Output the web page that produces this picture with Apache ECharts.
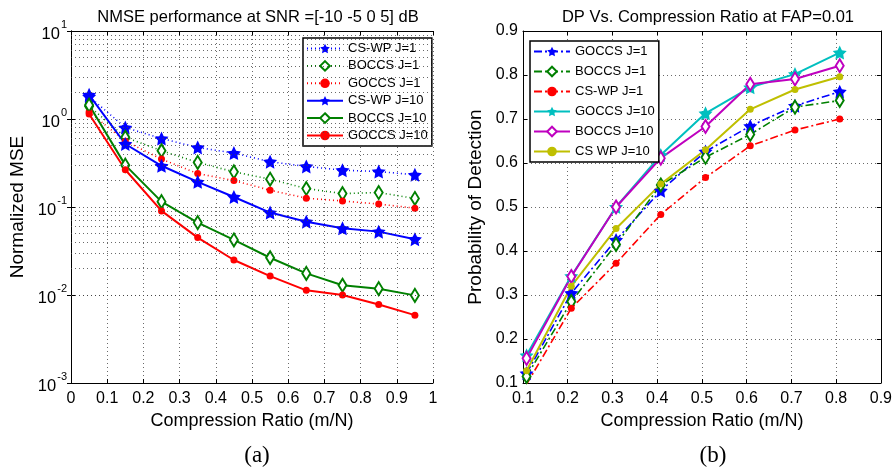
<!DOCTYPE html>
<html>
<head>
<meta charset="utf-8">
<script src="https://cdn.jsdelivr.net/npm/echarts@6/dist/echarts.min.js"></script>
<style>
  html, body { margin: 0; padding: 0; background: #fff; }
  #main { width: 895px; height: 469px; }
</style>
</head>
<body>
<div id="main"></div>
<script>
// (a) NMSE vs compression ratio
var mseX = [0.05, 0.15, 0.25, 0.35, 0.45, 0.55, 0.65, 0.75, 0.85, 0.95];
var cswpJ1 = [1.8, 0.80, 0.60, 0.475, 0.41, 0.327, 0.289, 0.262, 0.253, 0.232];
var boccsJ1 = [1.4, 0.62, 0.436, 0.321, 0.251, 0.207, 0.162, 0.142, 0.146, 0.125];
var goccsJ1 = [1.2, 0.56, 0.35, 0.24, 0.20, 0.155, 0.126, 0.117, 0.108, 0.097];
var cswpJ10 = [1.88, 0.52, 0.294, 0.193, 0.130, 0.0864, 0.068, 0.0573, 0.0525, 0.043];
var boccsJ10 = [1.44, 0.299, 0.115, 0.0665, 0.0422, 0.0265, 0.0176, 0.0129, 0.0118, 0.0099];
var goccsJ10 = [1.14, 0.265, 0.0903, 0.0449, 0.025, 0.0164, 0.0113, 0.0100, 0.0078, 0.0059];

// (b) detection probability vs compression ratio
var dpX = [0.108, 0.208, 0.308, 0.408, 0.508, 0.608, 0.708, 0.808];
var dpGoccsJ1 = [0.122, 0.304, 0.425, 0.537, 0.626, 0.684, 0.730, 0.762];
var dpBoccsJ1 = [0.115, 0.285, 0.415, 0.550, 0.613, 0.665, 0.727, 0.742];
var dpCswpJ1 = [0.097, 0.270, 0.372, 0.483, 0.567, 0.639, 0.675, 0.700];
var dpGoccsJ10 = [0.163, 0.343, 0.500, 0.618, 0.713, 0.772, 0.802, 0.851];
var dpBoccsJ10 = [0.156, 0.342, 0.500, 0.611, 0.683, 0.779, 0.791, 0.821];
var dpCswpJ10 = [0.128, 0.320, 0.451, 0.552, 0.630, 0.722, 0.767, 0.796];

var FONT = "Liberation Sans";
var STAR = "path://M0,-10 L2.94,-4.05 9.51,-3.09 4.76,1.55 5.88,8.09 0,5 -5.88,8.09 -4.76,1.55 -9.51,-3.09 -2.94,-4.05 Z";
var dashDot = [8, 3, 2, 3];
var dotted = [1, 3];

function zip(xs, ys) {
  return xs.map(function (x, i) { return [x, ys[i]]; });
}

var gridLine = { show: true, lineStyle: { color: "#444", width: 0.8, type: dotted } };

// minor grid lines of the log axis, 2..9 in every decade
var minorLines = [];
for (var k = -3; k <= 0; k++) {
  for (var m = 2; m <= 9; m++) {
    minorLines.push({ yAxis: m * Math.pow(10, k) });
  }
}

function mkSeries(name, xi, yi, data, color, lineType, symbol, size, hollow) {
  return {
    name: name,
    type: "line",
    xAxisIndex: xi,
    yAxisIndex: yi,
    data: data,
    symbol: symbol,
    symbolSize: size,
    showAllSymbol: true,
    lineStyle: { color: color, width: lineType === "solid" ? 2 : 1.6, type: lineType },
    itemStyle: hollow
      ? { color: color, borderColor: color, borderWidth: 1.6 }
      : { color: color },
    emphasis: { disabled: true },
  };
}

var series = [
  mkSeries("a:CS-WP J=1", 0, 0, zip(mseX, cswpJ1), "#0000ff", dotted, STAR, 14),
  mkSeries("a:BOCCS J=1", 0, 0, zip(mseX, boccsJ1), "#008000", dotted, "emptyDiamond", [8, 13], true),
  mkSeries("a:GOCCS J=1", 0, 0, zip(mseX, goccsJ1), "#ff0000", dotted, "circle", 7),
  mkSeries("a:CS-WP J=10", 0, 0, zip(mseX, cswpJ10), "#0000ff", "solid", STAR, 14),
  mkSeries("a:BOCCS J=10", 0, 0, zip(mseX, boccsJ10), "#008000", "solid", "emptyDiamond", [8, 13], true),
  mkSeries("a:GOCCS J=10", 0, 0, zip(mseX, goccsJ10), "#ff0000", "solid", "circle", 7),

  mkSeries("b:GOCCS J=1", 2, 2, zip(dpX, dpGoccsJ1), "#0000ff", dashDot, STAR, 14),
  mkSeries("b:BOCCS J=1", 2, 2, zip(dpX, dpBoccsJ1), "#008000", dashDot, "emptyDiamond", [8, 13], true),
  mkSeries("b:CS-WP J=1", 2, 2, zip(dpX, dpCswpJ1), "#ff0000", dashDot, "circle", 7),
  mkSeries("b:GOCCS J=10", 2, 2, zip(dpX, dpGoccsJ10), "#00bfbf", "solid", STAR, 14),
  mkSeries("b:BOCCS J=10", 2, 2, zip(dpX, dpBoccsJ10), "#bf00bf", "solid", "emptyDiamond", [8, 13], true),
  mkSeries("b:CS WP J=10", 2, 2, zip(dpX, dpCswpJ10), "#bfbf00", "solid", "circle", 7),
];

// minor grid lines drawn through the log scale
series.push({
  type: "line",
  xAxisIndex: 0,
  yAxisIndex: 0,
  data: [],
  silent: true,
  markLine: {
    silent: true,
    symbol: ["none", "none"],
    label: { show: false },
    lineStyle: { color: "#444", width: 0.8, type: dotted },
    emphasis: { disabled: true },
    data: minorLines,
    animation: false,
  },
});

function legendBox(names, left, top, gap) {
  return {
    data: names,
    orient: "vertical",
    left: left,
    top: top,
    itemWidth: 36,
    itemHeight: 12,
    itemGap: gap,
    padding: [4, 4, 4, 3],
    backgroundColor: "#fff",
    borderColor: "#000",
    borderWidth: 1.5,
    borderRadius: 0,
    selectedMode: false,
    textStyle: { fontFamily: FONT, fontSize: 13, color: "#000" },
    formatter: function (n) { return n.slice(2); },
  };
}

var tickLabel = { fontFamily: FONT, fontSize: 16, color: "#000" };
var axisNameStyle = { fontFamily: FONT, fontSize: 18, color: "#000" };
var yNameStyle = { fontFamily: FONT, fontSize: 19, color: "#000" };
var titleStyle = { fontFamily: FONT, fontSize: 16.5, fontWeight: "normal", color: "#000" };
var blackLine = { show: true, lineStyle: { color: "#000", width: 1 } };
var inTick = { show: true, inside: true, length: 4, lineStyle: { color: "#000" } };

var option = {
  animation: false,
  backgroundColor: "#fff",
  title: [
    { text: "NMSE performance at SNR =[-10 -5 0 5] dB", left: 253, top: 4, textAlign: "center", textStyle: titleStyle },
    { text: "DP Vs. Compression Ratio at FAP=0.01", left: 703, top: 4, textAlign: "center", textStyle: titleStyle },
    { text: "(a)", left: 252, top: 439, textAlign: "center",
      textStyle: { fontFamily: "Liberation Serif", fontSize: 23, fontWeight: "normal", color: "#000" } },
    { text: "(b)", left: 708, top: 439, textAlign: "center",
      textStyle: { fontFamily: "Liberation Serif", fontSize: 23, fontWeight: "normal", color: "#000" } },
  ],
  legend: [
    legendBox(["a:CS-WP J=1", "a:BOCCS J=1", "a:GOCCS J=1", "a:CS-WP J=10", "a:BOCCS J=10", "a:GOCCS J=10"], 303, 38, 4.4),
    legendBox(["b:GOCCS J=1", "b:BOCCS J=1", "b:CS-WP J=1", "b:GOCCS J=10", "b:BOCCS J=10", "b:CS WP J=10"], 530, 41, 7),
  ],
  grid: [
    { left: 71, top: 31, width: 362, height: 352 },
    { left: 523, top: 31, width: 362, height: 352 },
  ],
  xAxis: [
    { type: "value", gridIndex: 0, min: 0, max: 1, interval: 0.1, position: "bottom",
      name: "Compression Ratio (m/N)", nameLocation: "middle", nameGap: 29, nameTextStyle: axisNameStyle,
      axisLine: blackLine, axisTick: inTick, splitLine: gridLine,
      axisLabel: Object.assign({ margin: 8 }, tickLabel) },
    { type: "value", gridIndex: 0, min: 0, max: 1, interval: 0.1, position: "top",
      axisLine: blackLine, axisTick: inTick, splitLine: { show: false }, axisLabel: { show: false } },
    { type: "value", gridIndex: 1, min: 0.1, max: 0.9, interval: 0.1, position: "bottom",
      name: "Compression Ratio (m/N)", nameLocation: "middle", nameGap: 29, nameTextStyle: axisNameStyle,
      axisLine: blackLine, axisTick: inTick, splitLine: gridLine,
      axisLabel: Object.assign({ margin: 8 }, tickLabel) },
    { type: "value", gridIndex: 1, min: 0.1, max: 0.9, interval: 0.1, position: "top",
      axisLine: blackLine, axisTick: inTick, splitLine: { show: false }, axisLabel: { show: false } },
  ],
  yAxis: [
    { type: "log", logBase: 10, gridIndex: 0, min: 0.001, max: 10, position: "left",
      name: "Normalized MSE", nameLocation: "middle", nameGap: 44, nameTextStyle: yNameStyle,
      axisLine: blackLine, axisTick: inTick, splitLine: gridLine,
      axisLabel: {
        margin: 4,
        formatter: function (v) {
          var e = Math.round(Math.log10(v));
          return "{b|10}{s|" + e + "}";
        },
        rich: {
          b: { fontFamily: FONT, fontSize: 16.5, color: "#000", padding: [6, 0, 0, 0] },
          s: { fontFamily: FONT, fontSize: 11, color: "#000", verticalAlign: "top", padding: [0, 0, 0, 1] },
        },
      } },
    { type: "log", logBase: 10, gridIndex: 0, min: 0.001, max: 10, position: "right",
      axisLine: blackLine, axisTick: inTick, splitLine: { show: false }, axisLabel: { show: false } },
    { type: "value", gridIndex: 1, min: 0.1, max: 0.9, interval: 0.1, position: "left",
      name: "Probability of Detection", nameLocation: "middle", nameGap: 38, nameTextStyle: yNameStyle,
      axisLine: blackLine, axisTick: inTick, splitLine: gridLine,
      axisLabel: Object.assign({ margin: 5 }, tickLabel) },
    { type: "value", gridIndex: 1, min: 0.1, max: 0.9, interval: 0.1, position: "right",
      axisLine: blackLine, axisTick: inTick, splitLine: { show: false }, axisLabel: { show: false } },
  ],
  series: series,
};

var myChart = echarts.init(document.getElementById("main"));
myChart.setOption(option);
</script>
</body>
</html>
